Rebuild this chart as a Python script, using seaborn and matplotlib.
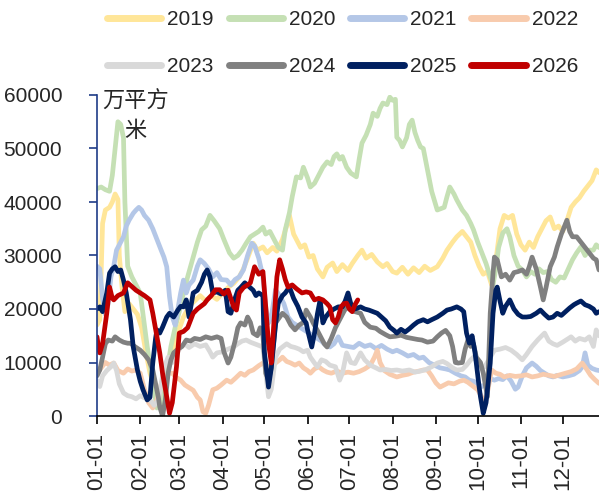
import pandas as pd
import matplotlib
matplotlib.use("Agg")
import matplotlib.pyplot as plt
import seaborn as sns

# day of year (0 = 01-01) and value (万平方米) for each year
days_2019 = [0, 2, 4, 6, 9, 11, 13, 15, 16, 18, 20, 23, 26, 29, 32, 35, 38, 41, 44, 47, 51, 55, 58, 62, 66, 70,
             74, 78, 82, 86, 90, 94, 98, 102, 105, 108, 112, 115, 119, 122, 126, 129, 133, 136, 138, 141, 143,
             146, 149, 152, 155, 158, 162, 165, 169, 172, 176, 180, 183, 187, 190, 193, 197, 201, 205, 208, 212,
             215, 219, 223, 227, 231, 235, 239, 244, 248, 251, 255, 258, 262, 265, 268, 271, 274, 277, 280, 283,
             286, 289, 292, 295, 298, 301, 304, 307, 310, 313, 316, 319, 322, 325, 328, 331, 334, 337, 340, 343,
             346, 349, 352, 355, 358, 360]
vals_2019 = [17000, 18000, 36000, 38500, 39000, 40000, 41500, 40500, 30000, 24000, 19500, 21000, 20000, 19000,
             16500, 12000, 8000, 5500, 4000, 6000, 9000, 12500, 15500, 18500, 20500, 21500, 22500, 21500, 22500,
             21800, 23000, 24000, 24800, 26000, 27500, 29500, 32300, 31000, 31600, 30500, 31500, 30800, 33000,
             35500, 37500, 34000, 33000, 31500, 32000, 29700, 30000, 27500, 26000, 27800, 28600, 27000, 28300,
             27200, 28500, 30000, 31000, 29500, 30200, 28800, 27900, 28500, 27000, 26700, 27800, 26500, 27700,
             26800, 28000, 27200, 27900, 29500, 31000, 32500, 33500, 34500, 33500, 32500, 30000, 28000, 26500,
             27000, 24500, 29000, 35000, 37500, 37000, 37500, 34000, 32000, 31000, 32500, 31500, 33500, 35000,
             36500, 37200, 35000, 35500, 34500, 36500, 39000, 40000, 40800, 42000, 43000, 44000, 46000, 45500]

days_2020 = [0, 3, 6, 9, 11, 13, 15, 17, 19, 20, 22, 25, 28, 31, 34, 36, 39, 43, 46, 50, 53, 56, 59, 62, 65, 69,
             72, 75, 78, 81, 84, 88, 91, 95, 98, 101, 104, 107, 110, 113, 116, 119, 121, 124, 127, 130, 133, 135,
             138, 140, 143, 146, 148, 151, 153, 156, 159, 162, 165, 168, 170, 172, 174, 176, 179, 182, 186, 188,
             190, 193, 196, 198, 201, 203, 205, 208, 210, 212, 214, 215, 217, 219, 222, 224, 226, 228, 230, 232,
             234, 237, 240, 244, 247, 249, 251, 253, 256, 258, 262, 265, 268, 270, 273, 276, 279, 282, 284, 286,
             288, 291, 294, 296, 299, 302, 305, 308, 311, 314, 317, 320, 323, 326, 329, 332, 335, 338, 341, 344,
             347, 350, 353, 356, 358, 360]
vals_2020 = [42500, 42800, 42300, 42000, 45000, 50000, 55000, 54500, 52000, 40000, 28000, 26000, 24500, 23000,
             17000, 13000, 8000, 1500, 2500, 8000, 13000, 16500, 19500, 23000, 26000, 29700, 32500, 34800, 35500,
             37500, 36500, 35000, 33000, 30500, 29500, 30000, 31000, 32300, 33500, 34000, 34500, 35300, 34000,
             34500, 33000, 31500, 31000, 34800, 38000, 41000, 44700, 44500, 46500, 44500, 42800, 43500, 45000,
             46500, 47500, 47000, 48500, 49000, 48000, 48500, 46500, 45400, 44700, 48000, 51000, 52500, 54500,
             56600, 56000, 57500, 58500, 58200, 59600, 59000, 59200, 52100, 51500, 50300, 52000, 54500, 55300,
             53000, 51500, 50300, 50000, 46000, 42000, 38500, 38800, 39000, 41000, 42800, 41500, 40400, 38500,
             37500, 36000, 34800, 32500, 30500, 28500, 26000, 24500, 27500, 31500, 34200, 35000, 33500, 30000,
             28000, 27300, 26000, 27000, 26500, 27500, 26800, 27000, 25500, 25000, 26000, 25800, 27500, 29200,
             30500, 31600, 30000, 31000, 31000, 32000, 31500]

days_2021 = [0, 2, 4, 6, 8, 10, 12, 14, 17, 19, 21, 23, 26, 28, 30, 32, 34, 37, 40, 43, 46, 48, 50, 52, 54, 56,
             58, 60, 62, 64, 66, 69, 72, 74, 77, 80, 83, 86, 89, 93, 96, 99, 102, 105, 108, 111, 113, 116, 119,
             121, 123, 125, 128, 131, 134, 137, 140, 143, 146, 149, 152, 155, 158, 161, 164, 167, 170, 173, 176,
             180, 184, 188, 192, 196, 200, 204, 208, 212, 215, 219, 223, 227, 231, 234, 238, 242, 246, 250, 253,
             257, 261, 264, 267, 270, 273, 276, 279, 282, 285, 288, 291, 294, 297, 300, 302, 305, 308, 312, 315,
             318, 321, 324, 327, 330, 334, 338, 342, 346, 348, 350, 352, 355, 358, 360]
vals_2021 = [28000, 27500, 22000, 19000, 21000, 26000, 28000, 31000, 32500, 33500, 35500, 36600, 37900, 38500,
             39000, 38500, 37500, 36600, 35000, 33000, 31000, 29700, 27900, 22300, 18500, 17000, 20000, 23000,
             25400, 23000, 24500, 25400, 28000, 29200, 28500, 27500, 26000, 26800, 25500, 25400, 24500, 25500,
             26000, 27300, 30000, 32300, 31800, 29500, 26000, 20400, 17400, 18500, 23600, 22500, 21000, 18500,
             17500, 17000, 16500, 16000, 15500, 15000, 14500, 14000, 13200, 12900, 13500, 14800, 13200, 13000,
             12800, 13600, 13000, 13300, 12600, 13200, 12500, 12000, 12300, 11800, 11200, 11500, 10800, 11000,
             10000, 9500, 9000, 8800, 8600, 8000, 7500, 7300, 6700, 6500, 6000, 5500, 6000, 7000, 6700, 7000,
             6800, 7500, 6500, 5000, 5400, 7500, 9000, 9900, 9300, 8500, 8000, 7500, 7300, 7600, 7300, 7500,
             7800, 8500, 9200, 11800, 9500, 8900, 8600, 8500]

days_2022 = [0, 3, 6, 9, 12, 15, 19, 22, 25, 28, 31, 34, 37, 40, 43, 46, 48, 51, 54, 57, 60, 63, 66, 69, 72, 74,
             76, 78, 80, 83, 86, 89, 93, 96, 99, 103, 106, 109, 112, 116, 119, 122, 125, 128, 131, 133, 136, 139,
             142, 145, 148, 151, 153, 156, 159, 162, 165, 168, 172, 176, 180, 184, 188, 192, 196, 199, 201, 203,
             206, 210, 215, 219, 223, 227, 231, 234, 237, 240, 243, 246, 249, 252, 256, 260, 263, 266, 270, 273,
             276, 278, 280, 283, 286, 289, 292, 296, 300, 304, 308, 312, 316, 320, 324, 328, 332, 336, 340, 344,
             348, 351, 354, 357, 360]
vals_2022 = [8000, 9000, 10000, 9500, 9900, 8500, 8000, 8800, 8400, 8600, 8000, 5000, 2500, 1500, 3000, 6000,
             7500, 8000, 8000, 7200, 6700, 5800, 5300, 4800, 3500, 3000, 800, 500, 2000, 4900, 5200, 5800, 6700,
             6300, 7000, 8000, 7600, 8300, 8600, 9400, 9900, 9200, 9600, 9900, 10500, 11000, 10200, 9900, 9500,
             9900, 9000, 8500, 8000, 8800, 9200, 8600, 8200, 8000, 8400, 8000, 8200, 8000, 8300, 8800, 9500,
             11000, 12300, 10000, 8500, 7800, 7300, 7600, 7800, 8200, 8400, 8600, 8600, 7500, 6200, 5400, 5800,
             6200, 6000, 6500, 6700, 6300, 5500, 4900, 3500, 1700, 4500, 8600, 8000, 7800, 7300, 7600, 7400,
             7500, 7700, 7300, 7500, 7800, 7600, 7400, 7700, 8000, 8300, 8800, 9900, 8800, 7600, 6800, 6100]

days_2023 = [0, 2, 4, 7, 10, 12, 14, 16, 19, 22, 25, 28, 31, 34, 38, 41, 44, 46, 48, 51, 54, 57, 60, 63, 66, 70,
             74, 78, 81, 83, 86, 90, 94, 98, 101, 104, 107, 110, 113, 116, 119, 121, 123, 125, 128, 131, 133,
             136, 139, 142, 145, 148, 151, 153, 156, 158, 161, 164, 167, 171, 174, 176, 179, 182, 185, 189, 192,
             196, 200, 203, 207, 211, 215, 219, 224, 228, 232, 236, 240, 244, 248, 251, 255, 258, 262, 265, 268,
             270, 273, 276, 278, 281, 285, 289, 293, 297, 301, 305, 308, 312, 316, 319, 321, 324, 327, 330, 334,
             337, 340, 343, 346, 350, 353, 356, 358, 360]
vals_2023 = [6700, 5500, 7500, 8500, 9200, 9900, 8500, 6000, 4300, 3800, 3600, 3200, 3800, 3400, 3000, 2000,
             3000, 6000, 9000, 11000, 10000, 11500, 12900, 13500, 12800, 13500, 13000, 13300, 12000, 11000,
             11800, 12000, 12500, 12900, 13500, 14000, 14200, 13800, 13500, 13200, 12900, 8000, 3600, 5000,
             11000, 12500, 12900, 13500, 13000, 12800, 12500, 12000, 12300, 11000, 9900, 9200, 10500, 10200,
             9500, 9200, 6700, 8000, 11800, 10000, 9800, 11800, 10500, 9500, 9000, 8600, 8700, 8500, 8600, 8400,
             8600, 8200, 8400, 8700, 9200, 9900, 10200, 9800, 9000, 8600, 8700, 9500, 10500, 11000, 10000, 9000,
             9200, 10500, 12300, 12500, 12800, 12300, 11500, 10500, 11500, 13000, 14200, 15000, 15500, 14000,
             13500, 13200, 13800, 14300, 14800, 14000, 14500, 14200, 14800, 13000, 16100, 15000]

days_2024 = [0, 2, 4, 6, 8, 11, 13, 16, 19, 22, 24, 27, 31, 34, 37, 40, 42, 44, 45, 47, 49, 51, 53, 55, 58, 61,
             64, 67, 70, 74, 78, 82, 86, 89, 91, 94, 96, 99, 101, 103, 106, 108, 110, 112, 115, 117, 119, 121,
             123, 125, 128, 131, 133, 136, 139, 142, 145, 148, 150, 153, 155, 158, 161, 163, 165, 168, 171, 174,
             177, 179, 182, 185, 189, 192, 196, 200, 203, 207, 210, 214, 218, 222, 226, 230, 233, 237, 241, 244,
             247, 250, 253, 255, 257, 259, 262, 264, 266, 268, 270, 272, 275, 277, 279, 280, 282, 284, 285, 287,
             290, 293, 296, 299, 302, 305, 308, 310, 312, 315, 318, 320, 322, 325, 328, 330, 333, 335, 337, 339,
             341, 344, 347, 350, 353, 356, 358, 360]
vals_2024 = [7500, 8600, 11000, 13500, 14200, 14000, 14800, 14200, 13800, 13600, 13600, 13000, 12300, 11500,
             10500, 8600, 6000, 3500, 1700, 0, 3000, 8000, 10500, 11800, 12500, 13000, 14200, 14000, 14500,
             14300, 14800, 14500, 14800, 14500, 12000, 9900, 11000, 14000, 16500, 17400, 17000, 18500, 17500,
             15500, 15000, 16500, 15000, 8000, 6700, 9000, 17400, 18500, 19200, 18500, 17000, 16100, 17000,
             17500, 19800, 18500, 17400, 16000, 14500, 13500, 12900, 14500, 16500, 18000, 19500, 20400, 19800,
             19500, 19200, 17500, 16600, 16400, 15800, 15200, 14800, 14900, 15100, 14700, 14500, 14300, 14200,
             13800, 14000, 14800, 15500, 16000, 15000, 13000, 10000, 9900, 10000, 12500, 14200, 13000, 13500,
             11000, 10000, 8000, 5000, 3600, 19200, 26700, 29700, 29200, 26000, 26500, 25400, 26800, 27000,
             27300, 26500, 27900, 29700, 27500, 24100, 21700, 24000, 27900, 29700, 31600, 34000, 35300, 36600,
             34500, 33500, 33500, 32500, 31500, 30500, 29500, 29200, 27300]

days_2025 = [0, 2, 4, 7, 9, 11, 13, 15, 17, 19, 21, 24, 26, 29, 31, 33, 36, 38, 40, 42, 43, 45, 47, 50, 52, 55,
             58, 60, 62, 64, 66, 69, 72, 75, 77, 79, 81, 83, 86, 89, 92, 94, 96, 99, 101, 103, 106, 109, 112,
             114, 116, 119, 120, 122, 123, 125, 128, 130, 133, 135, 138, 141, 144, 147, 150, 151, 153, 154, 156,
             158, 160, 162, 164, 167, 170, 173, 176, 178, 180, 182, 185, 189, 192, 195, 198, 201, 204, 207, 210,
             213, 215, 218, 221, 224, 227, 230, 234, 237, 240, 244, 248, 251, 254, 258, 261, 263, 265, 267, 269,
             271, 272, 274, 275, 277, 279, 281, 282, 284, 286, 287, 289, 291, 293, 296, 299, 302, 305, 308, 311,
             315, 318, 321, 324, 327, 330, 333, 336, 339, 342, 344, 347, 350, 353, 356, 358, 360]
vals_2025 = [20000, 20400, 19500, 23000, 26700, 27500, 27900, 27000, 27300, 25400, 23000, 18000, 12900, 8600,
             6500, 4900, 3000, 3500, 9900, 14500, 16100, 15500, 16600, 18500, 19200, 18500, 19800, 20500,
             20400, 21700, 18500, 23000, 23500, 25000, 26500, 27300, 26000, 23000, 23200, 22800, 23500, 19500,
             19200, 22000, 23500, 24000, 24900, 24200, 23500, 22500, 23000, 22500, 12000, 7500, 5400, 9000,
             17000, 21100, 22500, 23000, 24100, 22000, 20500, 18500, 17400, 16100, 14000, 12900, 15500, 19000,
             21700, 17400, 18500, 19500, 20000, 20400, 20400, 21500, 23000, 21000, 20000, 20400, 20000, 19800,
             19500, 19200, 18500, 17800, 16600, 16000, 15500, 16200, 15700, 16300, 17000, 17600, 18000, 17600,
             18000, 18500, 19200, 19800, 20000, 20400, 20000, 19500, 15500, 13600, 15000, 12000, 9900, 5500,
             3600, 500, 2500, 7500, 9900, 19200, 23500, 24100, 21500, 19200, 20500, 21700, 20000, 19000, 18500,
             18500, 18600, 19200, 19800, 19000, 18300, 18500, 19200, 18800, 19500, 20200, 20800, 21100, 21500,
             20800, 20500, 20000, 19200, 19500]

days_2026 = [0, 1, 2, 4, 7, 9, 11, 12, 15, 19, 22, 25, 28, 31, 34, 38, 40, 43, 45, 47, 50, 52, 54, 57, 59, 62,
             65, 69, 72, 74, 77, 79, 82, 85, 88, 91, 94, 98, 100, 102, 105, 108, 110, 113, 116, 119, 121, 123,
             125, 127, 129, 131, 133, 135, 137, 140, 143, 147, 150, 153, 156, 159, 162, 165, 167, 169, 171, 173,
             175, 177, 179, 181, 183, 185, 187]
vals_2026 = [14800, 13000, 11800, 13500, 19200, 24100, 22000, 21700, 22500, 23000, 24900, 24200, 23500, 23000,
             22500, 21700, 19200, 14800, 11800, 8000, 3600, 500, 2500, 9200, 15500, 15800, 16500, 19200, 20000,
             20400, 21000, 21700, 22500, 23600, 23600, 22800, 23500, 20400, 19800, 23000, 24000, 24500, 24900,
             27900, 26500, 27000, 20400, 13600, 9900, 18000, 26000, 29200, 27500, 25500, 24100, 24500, 23800,
             23000, 23200, 23000, 21700, 22000, 21700, 21000, 20400, 18000, 17400, 18500, 20400, 21000, 21100,
             20000, 19500, 20800, 21700]

years = ["2019", "2020", "2021", "2022", "2023", "2024", "2025", "2026"]
colors = ["#FFE699", "#C5E0B4", "#B4C7E7", "#F8CBAD", "#D9D9D9", "#808080", "#002060", "#C00000"]
month_days = [0, 31, 59, 90, 120, 151, 181, 212, 243, 273, 304, 334]
month_labels = ["01-01", "02-01", "03-01", "04-01", "05-01", "06-01",
                "07-01", "08-01", "09-01", "10-01", "11-01", "12-01"]

all_days = [days_2019, days_2020, days_2021, days_2022, days_2023, days_2024, days_2025, days_2026]
all_vals = [vals_2019, vals_2020, vals_2021, vals_2022, vals_2023, vals_2024, vals_2025, vals_2026]
frames = []
for yr, d, v in zip(years, all_days, all_vals):
    frames.append(pd.DataFrame({"day": d, "value": v, "year": yr}))
df = pd.concat(frames, ignore_index=True)

sns.set_style("white")
plt.rcParams['font.family'] = ['Liberation Sans', 'Noto Sans CJK SC', 'DejaVu Sans']

fig = plt.figure(figsize=(5.99, 4.93), dpi=100)
ax = fig.add_axes([97 / 599, 77 / 493, 1 - 97 / 599, 321 / 493])

sns.lineplot(data=df, x="day", y="value", hue="year", hue_order=years,
             palette=dict(zip(years, colors)), estimator=None, sort=False,
             linewidth=3.4, ax=ax)

ax.set_xlim(0, 360)
ax.set_ylim(0, 60000)
ax.set_xticks(month_days)
ax.set_xticklabels(month_labels, rotation=90, fontsize=16)
ax.set_yticks(range(0, 60001, 10000))
ax.set_yticklabels([str(t) for t in range(0, 60001, 10000)], fontsize=15)
ax.set_xlabel("")
ax.set_ylabel("")

for s in ["top", "right"]:
    ax.spines[s].set_visible(False)
ax.spines["left"].set_color("#1F3C88")
ax.spines["left"].set_linewidth(1.2)
ax.spines["bottom"].set_color("black")
ax.spines["bottom"].set_linewidth(1.2)
ax.tick_params(axis="y", direction="out", length=6, width=1.2, color="#1F3C88", pad=19, left=True)
ax.tick_params(axis="x", direction="out", length=6, width=1.2, color="black", pad=6, bottom=True)

ax.text(0.01, 1.015, "万平方\n米", transform=ax.transAxes, ha="left", va="top",
        multialignment="center", fontsize=16, linespacing=1.3,
        family=['Noto Sans CJK SC', 'DejaVu Sans'])

# legend fills column by column, so reorder to read row by row
handles, labels = ax.get_legend_handles_labels()
ax.get_legend().remove()
order = [0, 4, 1, 5, 2, 6, 3, 7]
handles = [handles[i] for i in order]
labels = [labels[i] for i in order]
leg = fig.legend(handles, labels, loc="upper left", bbox_to_anchor=(107 / 599, 1 - 10 / 493),
                 ncol=4, frameon=False, handlelength=2.6, handletextpad=0.3,
                 columnspacing=0.7, labelspacing=1.35, borderpad=0, borderaxespad=0,
                 prop={'family': 'Liberation Sans', 'size': 15})
for h in leg.get_lines():
    h.set_linewidth(5)
    h.set_solid_capstyle("round")

fig.savefig("out.png", dpi=100)
